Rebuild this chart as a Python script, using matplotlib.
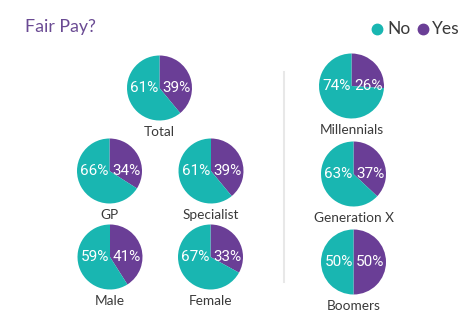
import matplotlib
matplotlib.use("Agg")
import matplotlib.pyplot as plt
from matplotlib.lines import Line2D

plt.rcParams['font.family'] = ['Lato', 'DejaVu Sans']

groups = ["Total", "GP", "Specialist", "Male", "Female", "Millennials", "Generation X", "Boomers"]
no_vals = [61, 66, 61, 59, 67, 74, 63, 50]
yes_vals = [39, 34, 39, 41, 33, 26, 37, 50]
legend_labels = ["No", "Yes"]

TEAL = "#19b6b1"
PURPLE = "#6a3e96"
W, H = 474, 322
# pie centre positions (pixels from top-left) and radius
centres = [(159.5, 88), (109.5, 171), (211, 171), (110, 257), (210.5, 257),
           (351.5, 86), (353.5, 174), (353.5, 262)]
R = 32.5

fig = plt.figure(figsize=(W / 100, H / 100), dpi=100)
fig.patch.set_facecolor("white")

for name, n, y, (cx, cy) in zip(groups, no_vals, yes_vals, centres):
    ax = fig.add_axes([(cx - R) / W, 1 - (cy + R) / H, 2 * R / W, 2 * R / H])
    ax.pie([y, n], colors=[PURPLE, TEAL], startangle=90, counterclock=False,
           radius=1, wedgeprops=dict(linewidth=0))
    ax.set_xlim(-1, 1)
    ax.set_ylim(-1, 1)
    ax.set_aspect("auto")
    ax.axis("off")
    ax.text(-0.46, 0.0, f"{n}%", color="white", fontsize=11, ha="center", va="center",
            family=["Roboto", "DejaVu Sans"])
    ax.text(0.52, 0.0, f"{y}%", color="white", fontsize=11, ha="center", va="center",
            family=["Roboto", "DejaVu Sans"])
    fig.text(cx / W, 1 - (cy + R + 11.5) / H, name, color="#3a3a3a", fontsize=9.8,
             ha="center", va="center")

# divider line
fig.add_artist(Line2D([284 / W, 284 / W], [1 - 72 / H, 1 - 282 / H],
                      color="#e8e8e8", linewidth=1.5, transform=fig.transFigure))

# title
fig.text(25 / W, 1 - 27 / H, "Fair Pay?", color="#6a4a93", fontsize=12.8,
         ha="left", va="center")

# legend
for lab, col, dx, tx in zip(legend_labels, [TEAL, PURPLE], [377, 423], [387, 432]):
    fig.add_artist(Line2D([dx / W], [1 - 29 / H], marker="o", markersize=7.5,
                          color=col, linestyle="none", transform=fig.transFigure))
    fig.text(tx / W, 1 - 29 / H, lab, color="#3a3a3a", fontsize=12.5,
             ha="left", va="center")

fig.savefig("out.png", dpi=100)
